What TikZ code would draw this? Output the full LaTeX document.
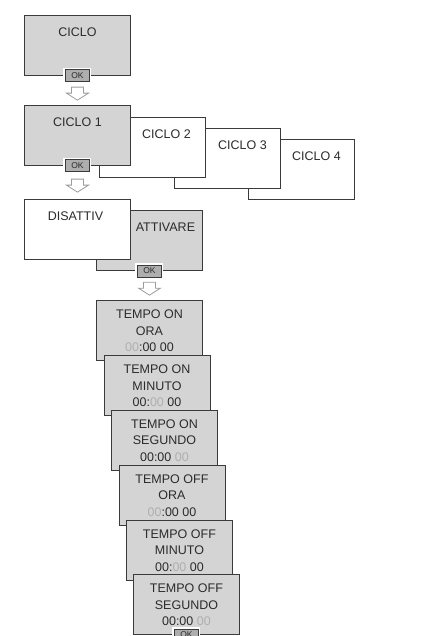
\documentclass[tikz,border=0pt]{standalone}
\usepackage{fontspec}
\setmainfont{Liberation Sans}
\usepackage{xcolor}
\usepackage{tikz}
\usetikzlibrary{calc}

\definecolor{panelgray}{HTML}{D4D4D4}
\definecolor{edgegray}{HTML}{3A3A3A}
\definecolor{ink}{HTML}{2B2B2B}
\definecolor{dimdigit}{HTML}{AFAFAF}
\definecolor{keygray}{HTML}{AEAEAE}
\definecolor{arrowgray}{HTML}{9C9C9C}

\newcommand{\faded}[1]{\textcolor{dimdigit}{#1}}

\begin{document}
\begin{tikzpicture}[x=1pt, y=-1pt,
  every node/.style={font=\fontsize{12.5}{16.5}\selectfont, text=ink},
  panel/.style={draw=edgegray, line width=0.9pt, fill=panelgray, minimum width=106pt,
                minimum height=60pt, inner sep=0pt, anchor=north west},
  blank/.style={panel, fill=white},
  title/.style={anchor=north, inner sep=0pt, yshift=-13pt},
  tempotitle/.style={anchor=north, inner sep=0pt, yshift=-10pt, align=center},
  okkey/.style={draw=edgegray, fill=keygray, line width=0.8pt, minimum width=24pt,
                minimum height=12pt, inner sep=0pt, font=\fontsize{8.5}{8.5}\selectfont,
                preaction={draw=white, line width=4pt}},
  hollowdown/.pic={\draw[arrowgray, fill=white, line width=0.8pt, line join=miter]
                (-6,-6.5) -- ++(12,0) -- ++(0,6) -- ++(5,0) -- ++(-11,7)
                -- ++(-11,-7) -- ++(5,0) -- cycle;}]
  \useasboundingbox (0,0) rectangle (427,636);

  % Cycle menu entry
  \node[panel, label={[title]north:CICLO}] (ciclo) at (24,15) {};
  \node[okkey] (ciclook) at (ciclo.south) {OK};

  % Stack of cycles, last one at the back
  \node[blank, label={[title, xshift=15pt]north:CICLO 4}] (ciclo4) at (248,139) {};
  \node[blank, label={[title, xshift=15pt]north:CICLO 3}] (ciclo3) at (174,128) {};
  \node[blank, label={[title, xshift=14pt]north:CICLO 2}] (ciclo2) at (99,117) {};
  \node[panel, label={[title]north:CICLO 1}] (ciclo1) at (24,105) {};
  \node[okkey] (ciclo1ok) at (ciclo1.south) {OK};
  \pic (arrcycle) at ($(ciclook.south)!0.5!(ciclo1.north)$) {hollowdown};

  % Enable / disable choice
  \node[panel, label={[title, xshift=16pt]north:ATTIVARE}] (attivare) at (96,210) {};
  \node[blank, label={[title, xshift=-2pt]north:DISATTIV}] (disattiv) at (24,199) {};
  \node[okkey] (attivareok) at (attivare.south) {OK};
  \pic (arrstate) at ($(ciclo1ok.south)!0.5!(disattiv.north)$) {hollowdown};

  % Time settings, each card on top of the previous one
  \node[panel, label={[tempotitle]north:{TEMPO ON\\ORA\\\faded{00}:00 00}}] (onora) at (96,300) {};
  \node[panel, label={[tempotitle]north:{TEMPO ON\\MINUTO\\00:\faded{00} 00}}] (onmin) at (103.5,355) {};
  \node[panel, label={[tempotitle]north:{TEMPO ON\\SEGUNDO\\00:00 \faded{00}}}] (onsec) at (111,409.5) {};
  \node[panel, label={[tempotitle]north:{TEMPO OFF\\ORA\\\faded{00}:00 00}}] (offora) at (118.5,464.5) {};
  \node[panel, label={[tempotitle]north:{TEMPO OFF\\MINUTO\\00:\faded{00} 00}}] (offmin) at (126,519.5) {};
  \node[panel, label={[tempotitle]north:{TEMPO OFF\\SEGUNDO\\00:00 \faded{00}}}] (offsec) at (133,574) {};
  \node[okkey] (offsecok) at (offsec.south) {OK};
  \pic (arrtime) at ($(attivareok.south)!0.5!(onora.north)$) {hollowdown};
\end{tikzpicture}
\end{document}
